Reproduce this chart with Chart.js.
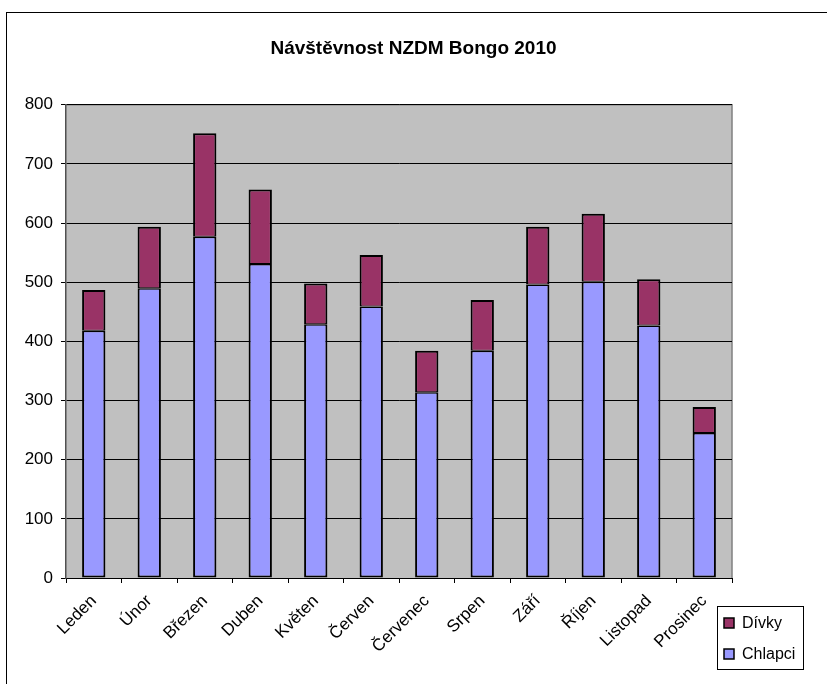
<!DOCTYPE html>
<html>
<head>
<meta charset="utf-8">
<script src="https://cdn.jsdelivr.net/npm/chart.js@4"></script>
<style>
html,body{margin:0;padding:0;background:#fff;overflow:hidden;width:827px;height:684px;}
#frame{position:absolute;left:6px;top:12px;width:900px;height:800px;border:1px solid #000;box-sizing:border-box;}
#wrap{position:absolute;left:0;top:0;width:827px;height:684px;}
</style>
</head>
<body>
<div id="frame"></div>
<div id="wrap"><canvas id="c" width="827" height="684"></canvas></div>
<script>
const categories = ["Leden","Únor","Březen","Duben","Květen","Červen","Červenec","Srpen","Září","Říjen","Listopad","Prosinec"];
const chlapci = [418, 490, 577, 531, 429, 459, 314, 384, 496, 501, 427, 245];
const divky   = [69, 104, 175, 126, 69, 87, 70, 86, 98, 115, 78, 44];
const yTicks = [0,100,200,300,400,500,600,700,800];
const titleText = "Návštěvnost NZDM Bongo 2010";

const FONT = "Arial, 'Liberation Sans', sans-serif";

const plotBg = {
  id:'plotBg',
  beforeDraw(chart){
    const {ctx, chartArea:a} = chart;
    ctx.save();
    ctx.fillStyle = '#C0C0C0';
    ctx.fillRect(a.left, a.top, a.right-a.left, a.bottom-a.top);
    ctx.strokeStyle = '#808080';
    ctx.lineWidth = 1.5;
    ctx.beginPath();
    ctx.moveTo(a.left, a.top);
    ctx.lineTo(a.right, a.top);
    ctx.lineTo(a.right, a.bottom);
    ctx.stroke();
    ctx.restore();
  }
};

const boxLegend = {
  id:'boxLegend',
  afterDraw(chart){
    const ctx = chart.ctx;
    const x = 717, y = 606, w = 86, h = 63;
    ctx.save();
    ctx.fillStyle = '#fff';
    ctx.fillRect(x, y, w, h);
    ctx.strokeStyle = '#000';
    ctx.lineWidth = 1;
    ctx.strokeRect(x+0.5, y+0.5, w, h);
    const ds = chart.data.datasets.slice().reverse();
    ctx.font = "16px " + FONT;
    ctx.textBaseline = 'middle';
    ds.forEach((d, i) => {
      const cy = y + 17 + i*31;
      ctx.fillStyle = d.backgroundColor;
      ctx.fillRect(x+7, cy-5, 10, 10);
      ctx.strokeStyle = '#000';
      ctx.lineWidth = 1.5;
      ctx.strokeRect(x+7, cy-5, 10, 10);
      ctx.fillStyle = '#000';
      ctx.fillText(d.label, x+25, cy+1);
    });
    ctx.restore();
  }
};

new Chart(document.getElementById('c'), {
  type:'bar',
  data:{
    labels: categories,
    datasets:[
      {label:'Chlapci', data: chlapci, backgroundColor:'#9999FF', borderColor:'#000',
       borderWidth:{top:1.5, left:2, right:2, bottom:2}, borderSkipped:false, barPercentage:0.42, categoryPercentage:1},
      {label:'Dívky', data: divky, backgroundColor:'#993366', borderColor:'#000',
       borderWidth:{top:2, left:2, right:2, bottom:1}, borderSkipped:false, barPercentage:0.42, categoryPercentage:1}
    ]
  },
  options:{
    responsive:false,
    animation:false,
    devicePixelRatio:1,
    layout:{padding:{left:0,right:0,top:0,bottom:0}},
    plugins:{
      legend:{display:false},
      tooltip:{enabled:false},
      title:{display:true, text:titleText, color:'#000', font:{family:FONT, size:19, weight:'bold'}, padding:{top:37, bottom:45}}
    },
    scales:{
      x:{
        stacked:true,
        grid:{display:true, drawOnChartArea:false, drawTicks:true, tickLength:5, color:'#000', offset:true},
        border:{display:true, color:'#000'},
        ticks:{color:'#000', font:{family:FONT, size:17}, maxRotation:45, minRotation:45, padding:8},
        afterFit(s){ s.height = 106; }
      },
      y:{
        stacked:true,
        min:0, max:800,
        grid:{color:'#000', tickLength:5, drawTicks:true},
        border:{display:true, color:'#505050', width:1.5},
        ticks:{color:'#000', font:{family:FONT, size:17}, stepSize:100, padding:8,
          callback:(v)=> yTicks.includes(v) ? String(v) : ''},
        afterFit(s){ s.width = 66; }
      },
      yR:{
        position:'right',
        display:true,
        grid:{display:false, drawTicks:false},
        border:{display:false},
        ticks:{display:false},
        afterFit(s){ s.width = 95; }
      }
    }
  },
  plugins:[plotBg, boxLegend]
});
</script>
</body>
</html>
